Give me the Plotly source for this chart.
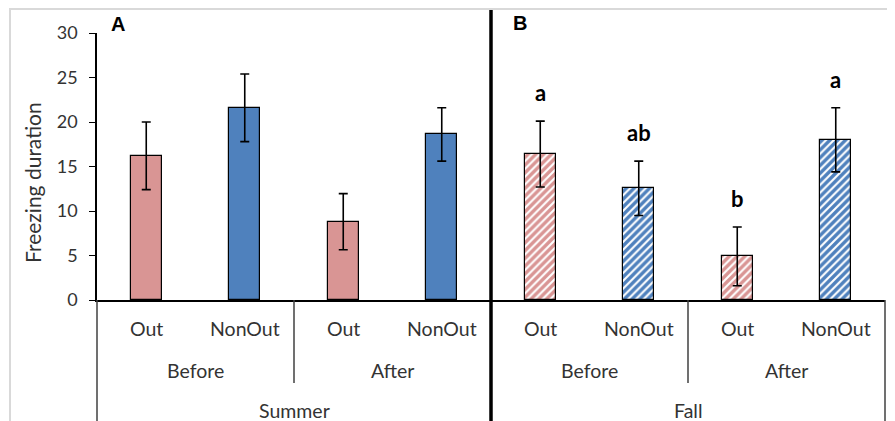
import plotly.graph_objects as go

# ---- data ----
seasons = ["Summer", "Fall"]
periods = ["Before", "After"]
groups = ["Out", "NonOut"]
means = [16.2, 21.6, 8.8, 18.6, 16.4, 12.55, 4.9, 18.0]
errors = [3.8, 3.8, 3.15, 3.0, 3.7, 3.05, 3.3, 3.6]
letters = ["", "", "", "", "a", "ab", "b", "a"]
panel_labels = ["A", "B"]
y_title = "Freezing duration"

PINK = "#D99594"
BLUE = "#4F81BD"

# screen geometry (page body has an 8px margin)
OFF = 8
SW, SH = 895, 421
W, H = SW - OFF, SH - OFF
L, R, T, B = 97, 885, 33, 300   # plot area in screen pixels
n = len(means)
xs = list(range(n))
xr = [-0.5, n - 0.5]

def px(xp):
    return (xp - L) / (R - L)

def py(yp):
    return (B - yp) / (B - T)

def dx(xd):
    return (xd - xr[0]) / (xr[1] - xr[0])

colors = [PINK if i % 2 == 0 else BLUE for i in range(n)]
patterns = ["" if i < 4 else "/" for i in range(n)]

fig = go.Figure()
fig.add_trace(go.Bar(
    x=xs, y=means, width=0.315,
    marker=dict(color=colors, line=dict(color="black", width=1.2),
                pattern=dict(shape=patterns, fgcolor=colors, bgcolor="white",
                             fillmode="replace", size=5.5, solidity=0.62)),
    error_y=dict(type="data", array=errors, visible=True, color="black",
                 thickness=1.6, width=4.5),
    showlegend=False, hoverinfo="skip",
))

FONT = "Lato"
TXT = "#333333"
ann = []
shapes = []

# letters above error bars
for i, (m, e, t) in enumerate(zip(means, errors, letters)):
    if t:
        ann.append(dict(x=xs[i], y=m + e, xref="x", yref="y", text=f"<b>{t}</b>",
                        showarrow=False, yanchor="bottom", xanchor="center", yshift=13,
                        font=dict(family=FONT, size=22, color="black")))

# level 1: group labels
for i in range(n):
    ann.append(dict(x=dx(xs[i]), y=py(328), xref="paper", yref="paper",
                    text=groups[i % 2], showarrow=False, xanchor="center", yanchor="middle",
                    font=dict(family=FONT, size=19.5, color=TXT)))
# level 2: period labels
for s in range(len(seasons)):
    for p in range(len(periods)):
        c = s * 4 + p * 2 + 0.5
        ann.append(dict(x=dx(c), y=py(370), xref="paper", yref="paper",
                        text=periods[p], showarrow=False, xanchor="center", yanchor="middle",
                        font=dict(family=FONT, size=19.5, color=TXT)))
# level 3: season labels
for s in range(len(seasons)):
    c = s * 4 + 1.5
    ann.append(dict(x=dx(c), y=py(410), xref="paper", yref="paper",
                    text=seasons[s], showarrow=False, xanchor="center", yanchor="middle",
                    font=dict(family=FONT, size=19.5, color=TXT)))

# panel labels
ann.append(dict(x=px(109), y=py(24), xref="paper", yref="paper", text="<b>A</b>",
                showarrow=False, xanchor="left", yanchor="middle",
                font=dict(family="Liberation Sans", size=20, color="black")))
ann.append(dict(x=px(511), y=py(23), xref="paper", yref="paper", text="<b>B</b>",
                showarrow=False, xanchor="left", yanchor="middle",
                font=dict(family="Liberation Sans", size=20, color="black")))

# y title
ann.append(dict(x=px(32), y=py(183), xref="paper", yref="paper", text=y_title,
                showarrow=False, textangle=-90, xanchor="center", yanchor="middle",
                font=dict(family=FONT, size=21, color=TXT)))

# outer light border
shapes.append(dict(type="rect", xref="paper", yref="paper",
                   x0=px(10), x1=px(SW + 5), y0=py(SH + 5), y1=py(9),
                   line=dict(color="#D9D9D9", width=2), layer="below"))
# category separator lines
for c in [1.5, 5.5]:
    shapes.append(dict(type="line", xref="paper", yref="paper",
                       x0=dx(c), x1=dx(c), y0=py(B), y1=py(383),
                       line=dict(color="#404040", width=1.5)))
for c in [xr[0], xr[1]]:
    shapes.append(dict(type="line", xref="paper", yref="paper",
                       x0=dx(c), x1=dx(c), y0=py(B), y1=py(SH + 5),
                       line=dict(color="#404040", width=1.5)))
# thick panel separator
shapes.append(dict(type="line", xref="paper", yref="paper",
                   x0=dx(3.5), x1=dx(3.5), y0=py(10), y1=py(SH + 5),
                   line=dict(color="black", width=3.5)))

fig.update_layout(
    width=W, height=H,
    margin=dict(l=L - OFF, r=SW - R, t=T - OFF, b=SH - B, pad=0),
    paper_bgcolor="white", plot_bgcolor="white",
    annotations=ann, shapes=shapes,
    xaxis=dict(range=xr, showticklabels=False, ticks="", showgrid=False,
               zeroline=False, showline=True, linecolor="black", linewidth=2),
    yaxis=dict(range=[0, 30], tickvals=[0, 5, 10, 15, 20, 25, 30], ticks="outside",
               ticklen=6, tickcolor="black", tickwidth=1.2, showgrid=False, zeroline=False,
               showline=True, linecolor="black", linewidth=1.5, ticklabelstandoff=8,
               tickfont=dict(family=FONT, size=18, color=TXT)),
    bargap=0,
)

fig.write_html("out.html")
